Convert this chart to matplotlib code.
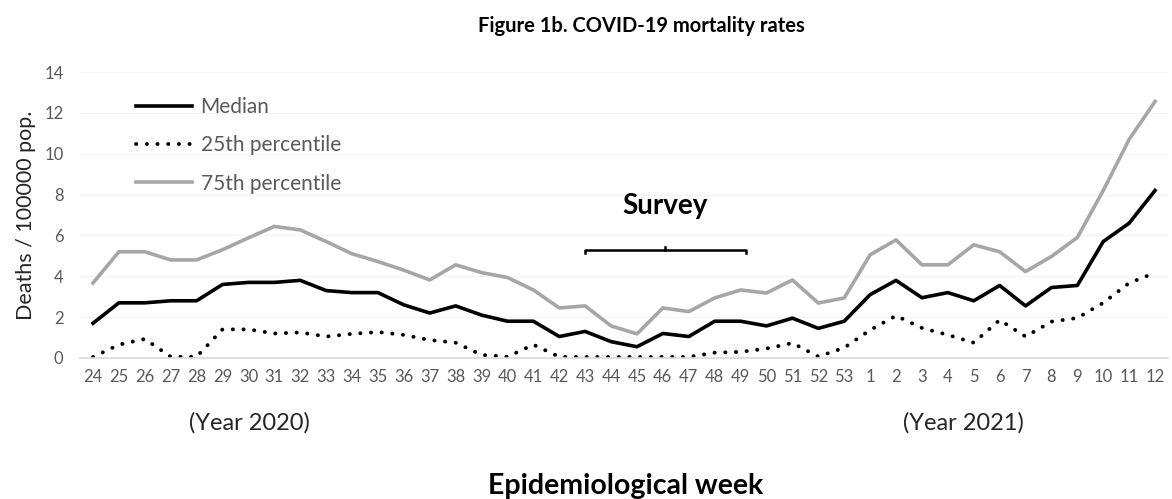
import matplotlib
matplotlib.use("Agg")
import matplotlib.pyplot as plt

plt.rcParams['font.family'] = ['Lato', 'DejaVu Sans']

# Epidemiological weeks (2020: 24-53, 2021: 1-12)
weeks = [str(w) for w in range(24, 54)] + [str(w) for w in range(1, 13)]

median = [1.7, 2.7, 2.7, 2.8, 2.8, 3.6, 3.7, 3.7, 3.8, 3.3, 3.2, 3.2, 2.6,
          2.2, 2.55, 2.1, 1.8, 1.8, 1.05, 1.3, 0.8, 0.55, 1.2, 1.05, 1.8, 1.8,
          1.57, 1.95, 1.45, 1.8, 3.1, 3.8, 2.95, 3.2, 2.8, 3.55, 2.55, 3.45,
          3.55, 5.7, 6.6, 8.2]

p25 = [0.05, 0.65, 0.93, 0.06, 0.06, 1.4, 1.4, 1.2, 1.25, 1.05, 1.18, 1.27,
       1.13, 0.88, 0.75, 0.15, 0.06, 0.65, 0.06, 0.05, 0.05, 0.05, 0.05, 0.05,
       0.26, 0.3, 0.46, 0.73, 0.07, 0.5, 1.37, 2.07, 1.47, 1.13, 0.75, 1.86,
       1.05, 1.78, 1.96, 2.7, 3.67, 4.17]

p75 = [3.67, 5.2, 5.2, 4.8, 4.8, 5.3, 5.88, 6.44, 6.27, 5.7, 5.1, 4.72, 4.3,
       3.82, 4.56, 4.18, 3.94, 3.33, 2.45, 2.55, 1.57, 1.18, 2.45, 2.27, 2.94,
       3.33, 3.18, 3.82, 2.69, 2.94, 5.05, 5.78, 4.56, 4.56, 5.54, 5.2, 4.23,
       4.97, 5.9, 8.2, 10.7, 12.56]

survey_start, survey_end = "43", "49"

tick_color = "#595959"

fig = plt.figure(figsize=(11.72, 4.99), dpi=100)
ax = fig.add_axes([0.0683, 0.2826, 0.9283, 0.5731])

x = list(range(len(weeks)))
ax.plot(x, median, color="black", lw=2.6, label="Median")
ax.plot(x, p25, color="black", lw=2.8, linestyle=(0, (0.05, 2.7)),
        dash_capstyle="round", label="25th percentile")
ax.plot(x, p75, color="#a6a6a6", lw=2.6, label="75th percentile")

ax.set_xlim(-0.5, len(weeks) - 0.5)
ax.set_ylim(0, 14)
ax.set_yticks(range(0, 15, 2))
ax.set_xticks(x)
ax.set_xticklabels(weeks)
ax.tick_params(axis="both", length=0, colors=tick_color, labelsize=12)
ax.tick_params(axis="x", pad=8)
ax.tick_params(axis="y", pad=12)
ax.grid(axis="y", color="#f4f4f4", lw=0.8)
ax.set_axisbelow(True)
for s in ["top", "right", "left"]:
    ax.spines[s].set_visible(False)
ax.spines["bottom"].set_color("#d9d9d9")
ax.spines["bottom"].set_linewidth(1.2)

ax.set_ylabel("Deaths / 100000 pop.", fontsize=15.5, color="#262626", labelpad=6)

# Survey bracket
i0 = weeks.index(survey_start)
i1 = weeks.index(survey_end)
yb = 5.3
ax.plot([i0, i0, i1 + 0.2, i1 + 0.2], [yb - 0.15, yb, yb, yb - 0.15],
        color="black", lw=1.8)
ax.plot([(i0 + i1 + 0.2) / 2] * 2, [yb, yb + 0.12], color="black", lw=1.8)
ax.text((i0 + i1 + 0.2) / 2, 7.45, "Survey", ha="center", va="center",
        fontsize=20, fontweight="bold", color="black")

leg = ax.legend(loc="upper left", bbox_to_anchor=(136 / 1172, 1 - 97 / 499),
                bbox_transform=fig.transFigure, frameon=False, fontsize=15,
                handlelength=2.7, labelspacing=0.88, handletextpad=0.4,
                borderpad=0, borderaxespad=0)
for t in leg.get_texts():
    t.set_color(tick_color)

fig.text(0.547, 0.948, "Figure 1b. COVID-19 mortality rates", ha="center",
         va="center", fontsize=14.5, fontweight="bold")
fig.text(0.213, 0.153, "(Year 2020)", ha="center", va="center", fontsize=17,
         color="#262626")
fig.text(0.822, 0.153, "(Year 2021)", ha="center", va="center", fontsize=17,
         color="#262626")
fig.text(0.534, 0.026, "Epidemiological week", ha="center", va="center",
         fontsize=20.5, fontweight="bold")

fig.savefig("out.png", dpi=100)
